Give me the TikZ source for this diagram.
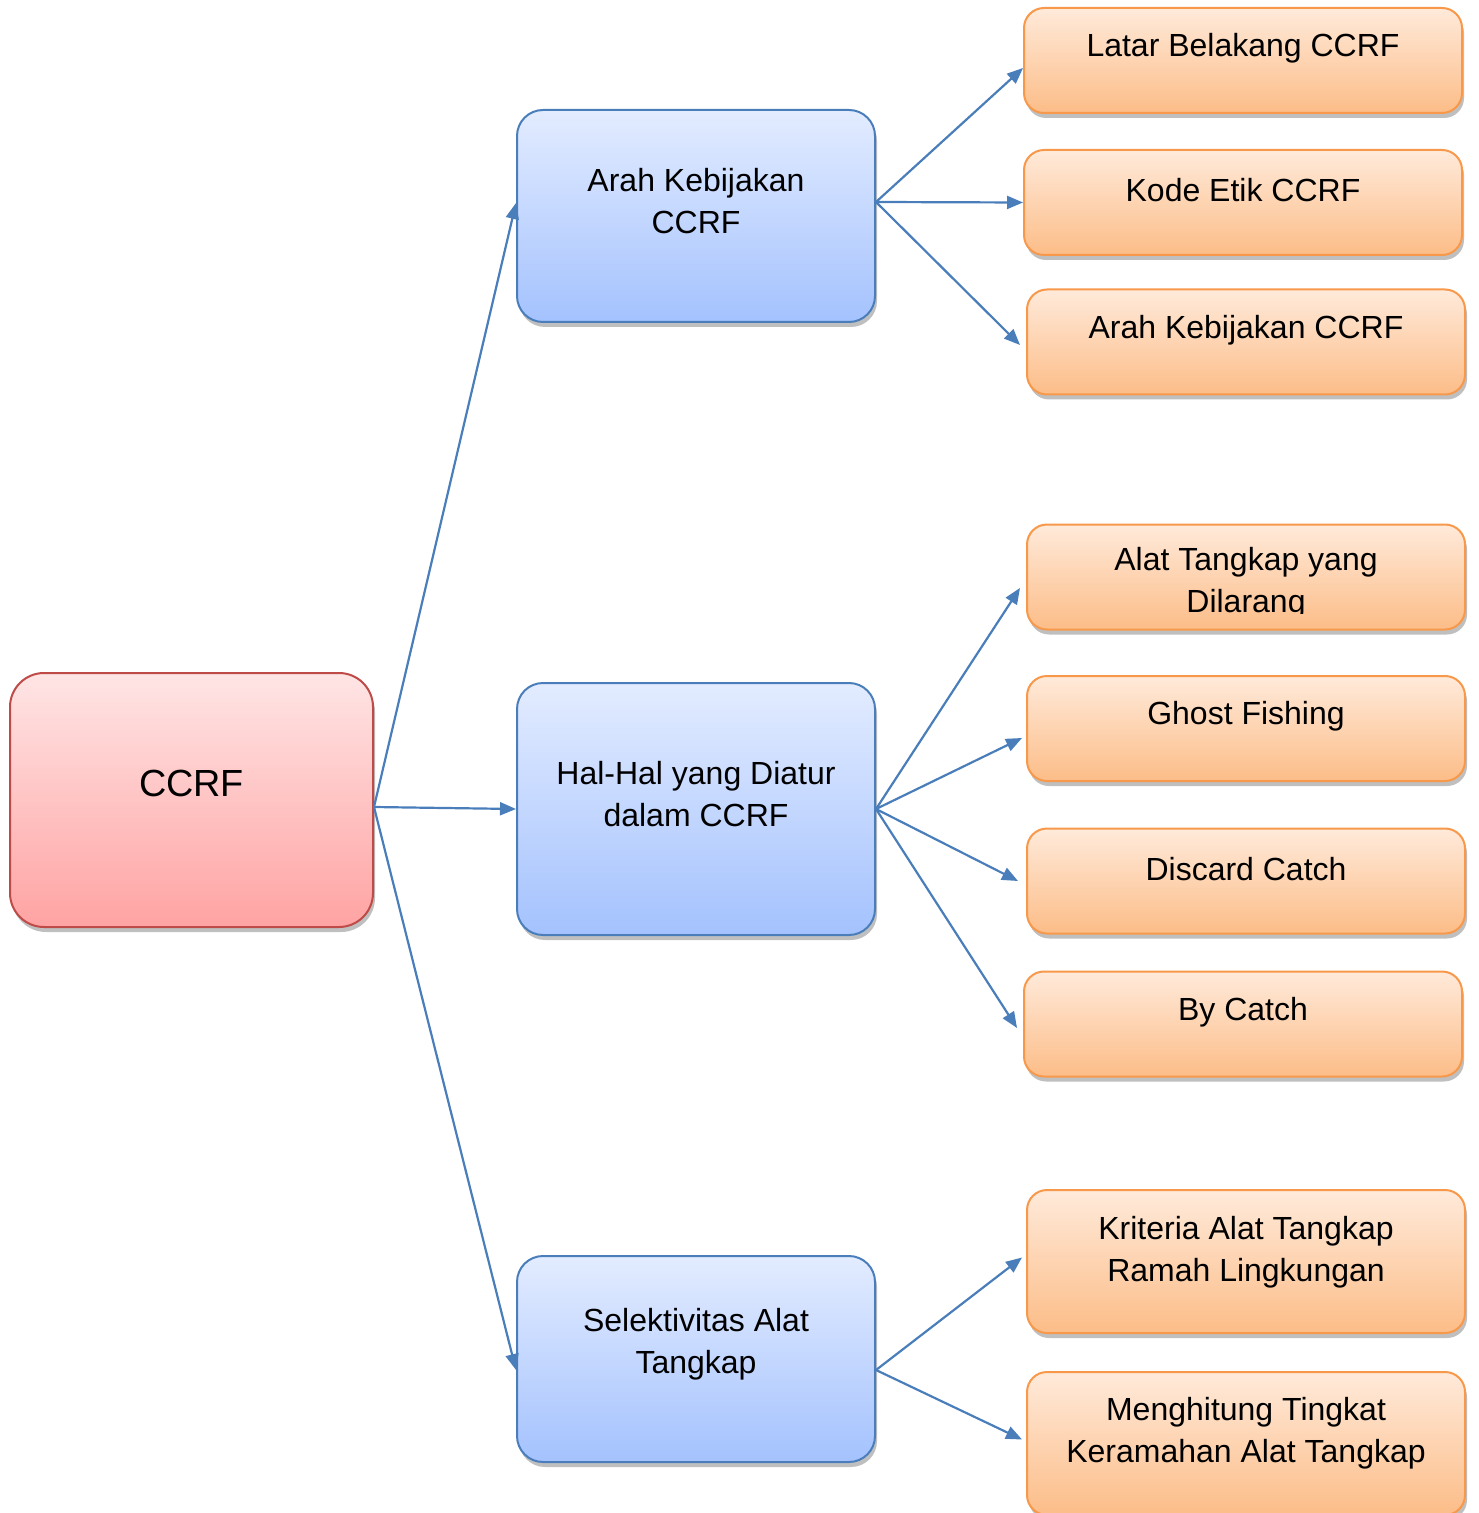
\documentclass[tikz,border=0pt]{standalone}
\usepackage{fontspec}
\setmainfont{Liberation Sans}
\usetikzlibrary{arrows.meta,shadows}

\definecolor{linkblue}{HTML}{4A7EBB}
\definecolor{rootline}{HTML}{BE4B48}
\definecolor{roottop}{HTML}{FFE5E5}
\definecolor{rootbot}{HTML}{FFA3A3}
\definecolor{midline}{HTML}{4A7EBB}
\definecolor{midtop}{HTML}{E3ECFF}
\definecolor{midbot}{HTML}{A4C2FE}
\definecolor{leafline}{HTML}{F7984A}
\definecolor{leaftop}{HTML}{FFEADA}
\definecolor{leafbot}{HTML}{FCBD88}

\begin{document}
\begin{tikzpicture}[x=0.5pt, y=-0.5pt,
  box/.style={draw, line width=1pt, inner sep=0pt,
    drop shadow={shadow xshift=1pt, shadow yshift=-2.5pt, fill=black, opacity=0.25}},
  txt/.style={font=\fontsize{16}{21}\selectfont, align=center, yshift=7.5pt},
  leaftxt/.style={txt, yshift=-1.5pt},
  rootbox/.style={box, draw=rootline, top color=roottop, bottom color=rootbot,
    rounded corners=17pt, minimum width=181.5pt, minimum height=127pt},
  midbox/.style={box, draw=midline, top color=midtop, bottom color=midbot,
    rounded corners=13pt, minimum width=179pt},
  leafbox/.style={box, draw=leafline, top color=leaftop, bottom color=leafbot,
    rounded corners=10pt, minimum width=219pt, minimum height=52.5pt},
  link/.style={draw=linkblue, line width=1.1pt, -{Triangle[length=8pt,width=6.5pt,fill=linkblue]}}]

\useasboundingbox (0,0) rectangle (1478,1513);

%%%%%%%%%%%%%%%%%%%%%% ROOT %%%%%%%%%%%%%%%%%%%%%%
\node [rootbox, label={[txt, font=\fontsize{18.9}{24}\selectfont, yshift=1pt]center:CCRF}]
    (ccrf) at (191.5, 800) {};

%%%%%%%%%%%%%%%%%%%%%% SECOND LEVEL %%%%%%%%%%%%%%%%%%%%%%
\node [midbox, minimum height=106pt, label={[txt]center:{Arah Kebijakan\\CCRF}}]
    (arah) at (696, 216) {};
\node [midbox, minimum height=126pt, label={[txt]center:{Hal-Hal yang Diatur\\dalam CCRF}}]
    (hal) at (696, 809) {};
\node [midbox, minimum height=103pt, label={[txt]center:{Selektivitas Alat\\Tangkap}}]
    (selek) at (696, 1359) {};

%%%%%%%%%%%%%%%%%%%%%% LEAVES %%%%%%%%%%%%%%%%%%%%%%
% under Arah Kebijakan
\node [leafbox, label={[leaftxt]center:Latar Belakang CCRF}] (latar) at (1243, 60.5) {};
\node [leafbox, label={[leaftxt]center:Kode Etik CCRF}] (kode) at (1243, 202.5) {};
\node [leafbox, label={[leaftxt]center:Arah Kebijakan CCRF}] (arahccrf) at (1246, 342) {};

% under Hal-Hal yang Diatur (text runs past the box, cut off)
\node [leafbox] (dilarang) at (1246, 577) {};
\begin{scope}
  \clip (1020, 520) rectangle (1470, 613);
  \node [txt, yshift=-10.5pt] (dilarangtxt) at (dilarang.center) {Alat Tangkap yang\\Dilarang};
\end{scope}
\node [leafbox, label={[leaftxt]center:Ghost Fishing}] (ghost) at (1246, 728.5) {};
\node [leafbox, label={[leaftxt]center:Discard Catch}] (discard) at (1246, 881) {};
\node [leafbox, label={[leaftxt]center:By Catch}] (bycatch) at (1243, 1024) {};

% under Selektivitas
\node [leafbox, minimum height=71.5pt, label={[leaftxt, yshift=-1.5pt]center:{Kriteria Alat Tangkap\\Ramah Lingkungan}}]
    (kriteria) at (1246, 1261.5) {};
\node [leafbox, minimum height=71.5pt, label={[leaftxt, yshift=-1pt]center:{Menghitung Tingkat\\Keramahan Alat Tangkap}}]
    (hitung) at (1246, 1443.5) {};

%%%%%%%%%%%%%%%%%%%%%% CONNECTORS %%%%%%%%%%%%%%%%%%%%%%
\draw [link] ([yshift=-3.5pt]ccrf.east) -- ([yshift=6.5pt]arah.west);
\draw [link] ([yshift=-3.5pt]ccrf.east) -- (hal.west);
\draw [link] ([yshift=-3.5pt]ccrf.east) -- ([yshift=-5.5pt]selek.west);

\draw [link] ([yshift=7pt]arah.east) -- ([yshift=-3.75pt]latar.west);
\draw [link] ([yshift=7pt]arah.east) -- (kode.west);
\draw [link] ([yshift=7pt]arah.east) -- ([xshift=-3pt,yshift=-1.5pt]arahccrf.west);

\draw [link] (hal.east) -- ([xshift=-3pt,yshift=-5.5pt]dilarang.west);
\draw [link] (hal.east) -- ([xshift=-2pt,yshift=-4.75pt]ghost.west);
\draw [link] (hal.east) -- ([xshift=-4pt]discard.west);
\draw [link] (hal.east) -- ([xshift=-3pt,yshift=-2pt]bycatch.west);

\draw [link] ([yshift=-5.5pt]selek.east) -- ([xshift=-2pt,yshift=2pt]kriteria.west);
\draw [link] ([yshift=-5.5pt]selek.east) -- ([xshift=-2pt,yshift=2pt]hitung.west);

\end{tikzpicture}
\end{document}
